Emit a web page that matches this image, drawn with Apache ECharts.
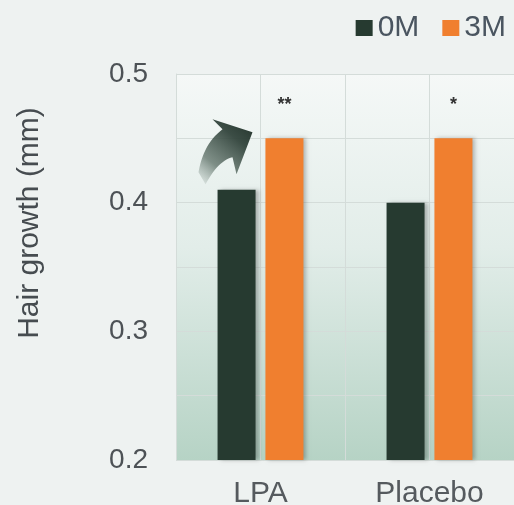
<!DOCTYPE html>
<html>
<head>
<meta charset="utf-8">
<script src="https://cdn.jsdelivr.net/npm/echarts@6/dist/echarts.min.js"></script>
<style>
html,body{margin:0;padding:0;background:#eef2f1;}
#c{width:514px;height:505px;}
</style>
</head>
<body>
<div id="c"></div>
<script>
const categories = ['LPA', 'Placebo'];
const seriesNames = ['0M', '3M'];
const values0M = [0.41, 0.40];
const values3M = [0.45, 0.45];
const significance = ['**', '*'];
const yTicks = [0.2, 0.3, 0.4, 0.5];

const chart = echarts.init(document.getElementById('c'));
const FONT = 'Liberation Sans, Arial, sans-serif';

chart.setOption({
  backgroundColor: '#eef2f1',
  animation: false,
  textStyle: {fontFamily: FONT},
  legend: {
    data: seriesNames,
    right: 3, top: 8,
    itemWidth: 17, itemHeight: 16, itemGap: 23,
    icon: 'rect',
    textStyle: {fontSize: 30, color: '#4a5560', fontFamily: FONT, padding: [0,0,0,0]}
  },
  grid: {
    left: 176, right: 0, top: 74, bottom: 45,
    outerBoundsMode: 'none',
    containLabel: false,
    show: true,
    borderWidth: 0,
    backgroundColor: new echarts.graphic.LinearGradient(0, 0, 0, 1, [
      {offset: 0, color: '#f5f8f7'},
      {offset: 0.45, color: '#e2ede9'},
      {offset: 1, color: '#b6d3c5'}
    ])
  },
  xAxis: [{
    type: 'category',
    data: categories,
    axisLine: {show: false},
    axisTick: {show: false},
    splitLine: {show: false},
    axisLabel: {fontSize: 30, color: '#555a5e', margin: 19, fontFamily: FONT}
  }, {
    type: 'value', min: 0, max: 4, interval: 1,
    show: true, position: 'top',
    axisLine: {show: false}, axisTick: {show: false}, axisLabel: {show: false},
    splitLine: {show: true, lineStyle: {color: '#d4dcd9', width: 1}}
  }],
  yAxis: {
    type: 'value',
    min: yTicks[0], max: yTicks[yTicks.length - 1], interval: 0.1,
    name: 'Hair growth (mm)',
    nameLocation: 'middle',
    nameGap: 131,
    nameTextStyle: {fontSize: 30, color: '#464c50', fontFamily: FONT, padding: [0, 0, 0, 88]},
    axisLine: {show: true, lineStyle: {color: '#d4dcd9'}},
    axisTick: {show: false},
    axisLabel: {fontSize: 28, color: '#4d5256', margin: 28, fontFamily: FONT,
      formatter: v => v.toFixed(1)},
    splitLine: {show: true, lineStyle: {color: '#d4dcd9', width: 1}},
    minorTick: {show: false, splitNumber: 2},
    minorSplitLine: {show: true, lineStyle: {color: '#d4dcd9', width: 1}}
  },
  series: [{
    name: seriesNames[0],
    type: 'bar',
    data: values0M,
    barWidth: 38,
    barGap: '26%',
    itemStyle: {color: '#263a30', shadowColor: 'rgba(0,0,0,0.25)', shadowBlur: 4, shadowOffsetX: 3}
  }, {
    name: seriesNames[1],
    type: 'bar',
    data: values3M,
    barWidth: 38,
    itemStyle: {color: '#f07f2f', shadowColor: 'rgba(0,0,0,0.25)', shadowBlur: 4, shadowOffsetX: 3},
    label: {
      show: true, position: 'top', distance: 24,
      fontSize: 18, fontWeight: 'bold', color: '#333',
      formatter: p => significance[p.dataIndex]
    }
  }]
});

// curved arrow annotation next to LPA bars (shape offsets relative to the bar pair)
function quad(p0, c, p1, n) {
  const out = [];
  for (let i = 0; i <= n; i++) {
    const t = i / n, u = 1 - t;
    out.push([u*u*p0[0] + 2*u*t*c[0] + t*t*p1[0], u*u*p0[1] + 2*u*t*c[1] + t*t*p1[1]]);
  }
  return out;
}
const anchor = chart.convertToPixel({xAxisIndex: 0, yAxisIndex: 0}, [categories[0], values3M[0]]);
const pts = [[-8, -6], [-48, -19], [-38, -9]]
  .concat(quad([-38, -9], [-57, 5], [-62, 34], 14).slice(1))
  .concat([[-55, 46]])
  .concat(quad([-55, 46], [-42, 22], [-28, 19], 14).slice(1))
  .concat([[-24, 36]]);
chart.setOption({
  graphic: [{
    type: 'polygon',
    x: anchor[0], y: anchor[1],
    shape: {points: pts},
    style: {
      fill: new echarts.graphic.LinearGradient(0, 1, 1, 0, [
        {offset: 0, color: 'rgba(110,130,120,0.05)'},
        {offset: 0.3, color: 'rgba(80,100,90,0.7)'},
        {offset: 0.7, color: 'rgba(50,68,60,0.95)'},
        {offset: 1, color: '#22322a'}
      ])
    }
  }]
});
</script>
</body>
</html>
